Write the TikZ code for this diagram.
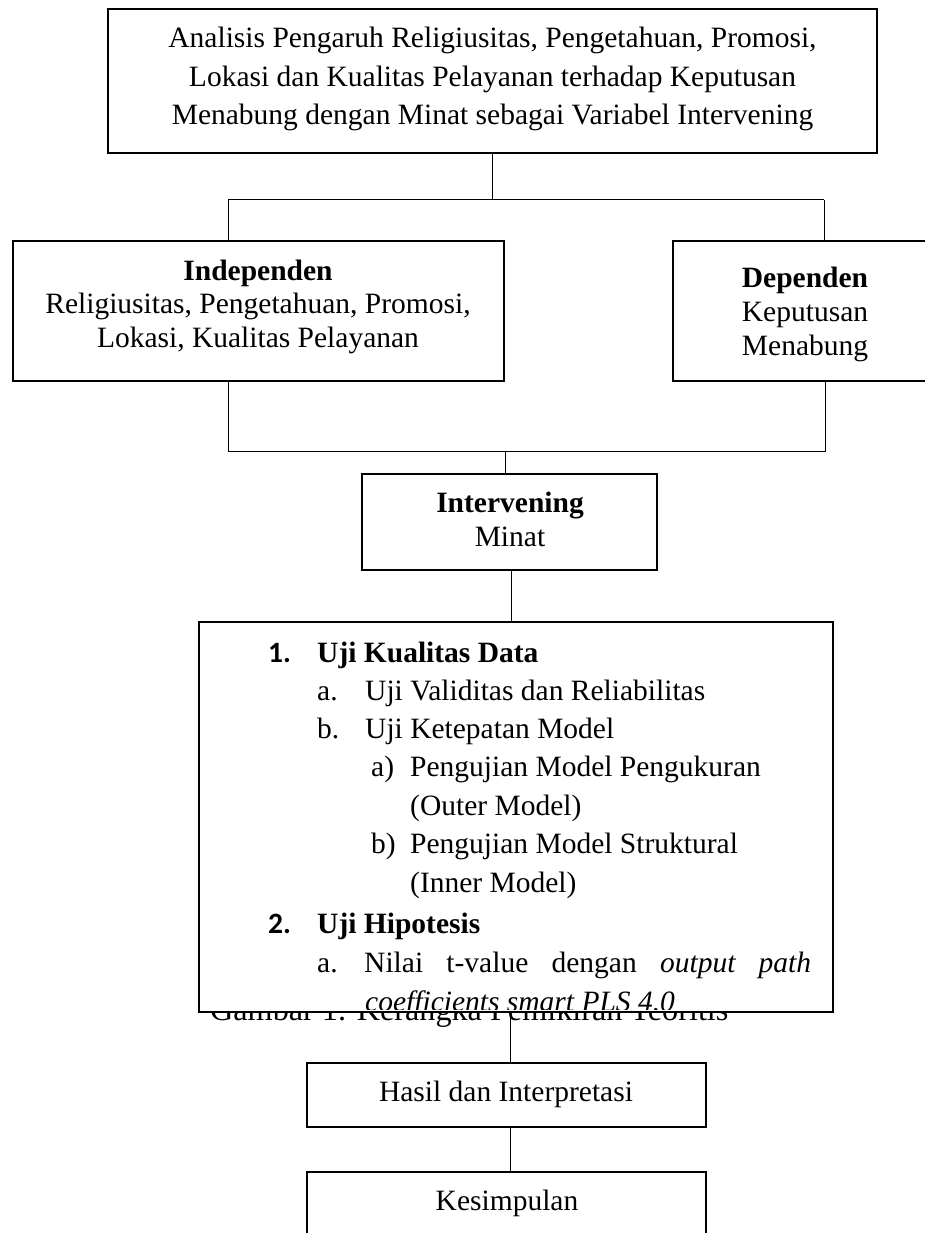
\documentclass[tikz,border=0pt]{standalone}
\usepackage{fontspec}
\setmainfont{Liberation Serif}
\newfontfamily\numfont{Carlito}
\begin{document}
\begin{tikzpicture}[x=1pt,y=-1pt,
  box/.style={draw, line width=2.5pt, fill=white, inner sep=0pt},
  conn/.style={line width=1pt},
  txt/.style={inner sep=0pt, anchor=base},
  li/.style={inner sep=0pt, anchor=base west, font=\fontsize{29.5}{38}\selectfont}]
\clip (0,0) rectangle (925,1233);
% caption partly hidden behind the method box
\node[inner sep=0pt, anchor=base west, font=\fontsize{32.2}{38}\selectfont] (cap) at (210,1020) {Gambar 1. Kerangka Pemikiran Teoritis};
% boxes
\node[box, minimum width=769pt, minimum height=144pt] (top) at (492.5,81) {};
\node[box, minimum width=491pt, minimum height=140pt] (left) at (258.5,311) {};
\node[box, minimum width=267pt, minimum height=140pt] (right) at (806.5,311) {};
\node[box, minimum width=295pt, minimum height=96pt] (inter) at (509.5,522) {};
\node[box, minimum width=634pt, minimum height=390pt] (big) at (516,817) {};
\node[box, minimum width=399pt, minimum height=64pt] (hasil) at (506.5,1095) {};
\node[box, minimum width=399pt, minimum height=88pt] (kes) at (506.5,1216) {};
% texts
\node[txt, font=\fontsize{29.5}{38.5}\selectfont] (ttop) at (492.5,48) {\begin{tabular}[t]{@{}c@{}}Analisis Pengaruh Religiusitas, Pengetahuan, Promosi,\\ Lokasi dan Kualitas Pelayanan terhadap Keputusan\\ Menabung dengan Minat sebagai Variabel Intervening\end{tabular}};
\node[txt, font=\fontsize{29.5}{33.5}\selectfont] (tleft) at (258,280) {\begin{tabular}[t]{@{}c@{}}\bfseries Independen\\ Religiusitas, Pengetahuan, Promosi,\\ Lokasi, Kualitas Pelayanan\end{tabular}};
\node[txt, font=\fontsize{29.5}{34}\selectfont] (tright) at (805,287) {\begin{tabular}[t]{@{}c@{}}\bfseries Dependen\\ Keputusan\\ Menabung\end{tabular}};
\node[txt, font=\fontsize{29.5}{34}\selectfont] (tinter) at (510,512) {\begin{tabular}[t]{@{}c@{}}\bfseries Intervening\\ Minat\end{tabular}};
\node[txt, font=\fontsize{29.5}{34}\selectfont] (thasil) at (506,1101) {Hasil dan Interpretasi};
\node[txt, font=\fontsize{29.5}{34}\selectfont] (tkes) at (507,1210) {Kesimpulan};
% list in the method box
\begin{scope}
\clip (199,622) rectangle (833,1009);
\node[li] (n1) at (268,662) {\numfont\bfseries 1.};
\node[li] (h1) at (317,662) {\bfseries Uji Kualitas Data};
\node[li] (la) at (317,700) {a.};
\node[li] (ta) at (365,700) {Uji Validitas dan Reliabilitas};
\node[li] (lb) at (317,738) {b.};
\node[li] (tb) at (365,738) {Uji Ketepatan Model};
\node[li] (lba) at (371,776) {a)};
\node[li] (tba) at (410,776) {Pengujian Model Pengukuran};
\node[li] (tba2) at (410,815) {(Outer Model)};
\node[li] (lbb) at (371,853) {b)};
\node[li] (tbb) at (410,853) {Pengujian Model Struktural};
\node[li] (tbb2) at (410,892) {(Inner Model)};
\node[li] (n2) at (268,933) {\numfont\bfseries 2.};
\node[li] (h2) at (317,933) {\bfseries Uji Hipotesis};
\node[li] (l2a) at (317,972) {a.};
\node[li] (t2a) at (364,972) {\makebox[447pt][s]{Nilai t-value dengan \textit{output path}}};
\node[li] (t2a2) at (365,1011) {\textit{coefficients smart PLS 4.0}};
\end{scope}
% connectors
\coordinate (s1) at (492.5,200);
\coordinate (jl) at (228,200);
\coordinate (jr) at (824,200);
\coordinate (kl) at (228,451);
\coordinate (kr) at (825,451);
\coordinate (km) at (505,451);
\coordinate (xa) at (511,0);
\coordinate (xb) at (510,0);
\draw[conn] (top.south) -- (s1);
\draw[conn] (jl) -- (jr);
\draw[conn] (jl) -- (jl |- left.north);
\draw[conn] (jr) -- (jr |- right.north);
\draw[conn] (kl |- left.south) -- (kl) -- (kr) -- (kr |- right.south);
\draw[conn] (km) -- (km |- inter.north);
\draw[conn] (inter.south -| xa) -- (big.north -| xa);
\draw[conn] (big.south -| xb) -- (hasil.north -| xb);
\draw[conn] (hasil.south -| xb) -- (kes.north -| xb);
\end{tikzpicture}
\end{document}
